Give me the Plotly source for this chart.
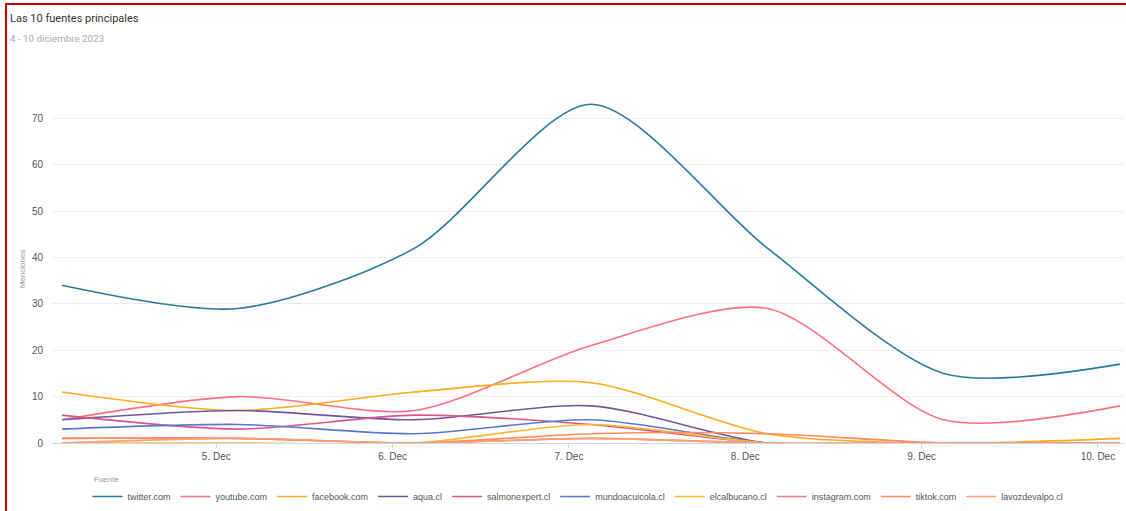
import plotly.graph_objects as go

# Daily mention counts per source, 4-10 December 2023
dates = ["2023-12-04 03:00", "2023-12-05 03:00", "2023-12-06 03:00", "2023-12-07 03:00",
         "2023-12-08 03:00", "2023-12-09 03:00", "2023-12-10 03:00"]

twitter = [34, 29, 42, 73, 42, 15, 17]
youtube = [5, 10, 7, 21, 29, 5, 8]
facebook = [11, 7, 11, 13, 2, 0, 1]
aqua = [5, 7, 5, 8, 0, 0, 0]
salmonexpert = [6, 3, 6, 4, 0, 0, 0]
mundoacuicola = [3, 4, 2, 5, 0, 0, 0]
elcalbucano = [0, 0, 0, 4, 0, 0, 0]
instagram = [1, 1, 0, 1, 0, 0, 0]
tiktok = [1, 1, 0, 2, 2, 0, 0]
lavozdevalpo = [0, 1, 0, 1, 0, 0, 0]

series = [
    ("twitter.com", twitter, "#2a7aa0"),
    ("youtube.com", youtube, "#ff6f7d"),
    ("facebook.com", facebook, "#ffab1a"),
    ("aqua.cl", aqua, "#70589a"),
    ("salmonexpert.cl", salmonexpert, "#d9558c"),
    ("mundoacuicola.cl", mundoacuicola, "#5b78cf"),
    ("elcalbucano.cl", elcalbucano, "#ffb72e"),
    ("instagram.com", instagram, "#f5788a"),
    ("tiktok.com", tiktok, "#ff8a5c"),
    ("lavozdevalpo.cl", lavozdevalpo, "#ffa070"),
]

tick_vals = ["2023-12-05", "2023-12-06", "2023-12-07", "2023-12-08", "2023-12-09", "2023-12-10"]
tick_text = ["5. Dec", "6. Dec", "7. Dec", "8. Dec", "9. Dec", "10. Dec"]

FONT = "Liberation Sans, Arial, sans-serif"

fig = go.Figure()
for name, values, color in series:
    fig.add_trace(go.Scatter(
        x=dates, y=values, name=name, mode="lines",
        line=dict(color=color, width=1.6, shape="spline", smoothing=0.8),
    ))

ML, MR, MT, MB = 52, 1, 95, 68
W, H = 1126, 511
pw, ph = W - ML - MR, H - MT - MB


def px_x(p):
    return (p - ML) / pw


def px_y(p):
    return (H - MB - p) / ph


fig.update_layout(
    width=W, height=H,
    margin=dict(l=ML, r=MR, t=MT, b=MB, autoexpand=False),
    paper_bgcolor="white", plot_bgcolor="white",
    font=dict(family=FONT, size=10, color="#666666"),
    showlegend=True,
    xaxis=dict(
        type="date",
        range=["2023-12-04 01:38", "2023-12-10 03:41"],
        tickvals=tick_vals, ticktext=tick_text,
        showgrid=False, showline=True, linecolor="#ccd6eb", linewidth=1,
        ticks="outside", ticklen=4, tickcolor="#ccd6eb",
        tickfont=dict(size=10, color="#555555"),
        zeroline=False,
    ),
    yaxis=dict(
        range=[0, 75], tickvals=[0, 10, 20, 30, 40, 50, 60, 70],
        showgrid=True, gridcolor="#eeeeee", gridwidth=1,
        zeroline=False, showline=False, ticks="",
        tickfont=dict(size=10, color="#555555"),
        ticklabelstandoff=8,
        title=dict(text="Menciones", font=dict(size=8, color="#999999"), standoff=5),
    ),
    legend=dict(
        orientation="h", x=px_x(578), xanchor="center", y=px_y(482), yanchor="top",
        font=dict(size=9, color="#555555"),
        itemwidth=30,
        bgcolor="rgba(0,0,0,0)",
    ),
    annotations=[
        dict(text="Las 10 fuentes principales", xref="paper", yref="paper",
             x=px_x(8), y=px_y(18), xanchor="left", yanchor="middle", showarrow=False,
             font=dict(family="Roboto, sans-serif", size=11, color="#333333")),
        dict(text="4 - 10 diciembre 2023", xref="paper", yref="paper",
             x=px_x(8), y=px_y(38), xanchor="left", yanchor="middle", showarrow=False,
             font=dict(family="Roboto, sans-serif", size=9.8, color="#aaaaaa")),
        dict(text="Fuente", xref="paper", yref="paper",
             x=px_x(92), y=px_y(480), xanchor="left", yanchor="middle", showarrow=False,
             font=dict(size=8, color="#999999")),
    ],
    shapes=[
        dict(type="rect", xref="paper", yref="paper",
             x0=px_x(6), x1=px_x(1140), y0=px_y(4), y1=px_y(520),
             line=dict(color="#c00000", width=2), fillcolor="rgba(0,0,0,0)", layer="above"),
    ],
)

fig.write_html("out.html")
